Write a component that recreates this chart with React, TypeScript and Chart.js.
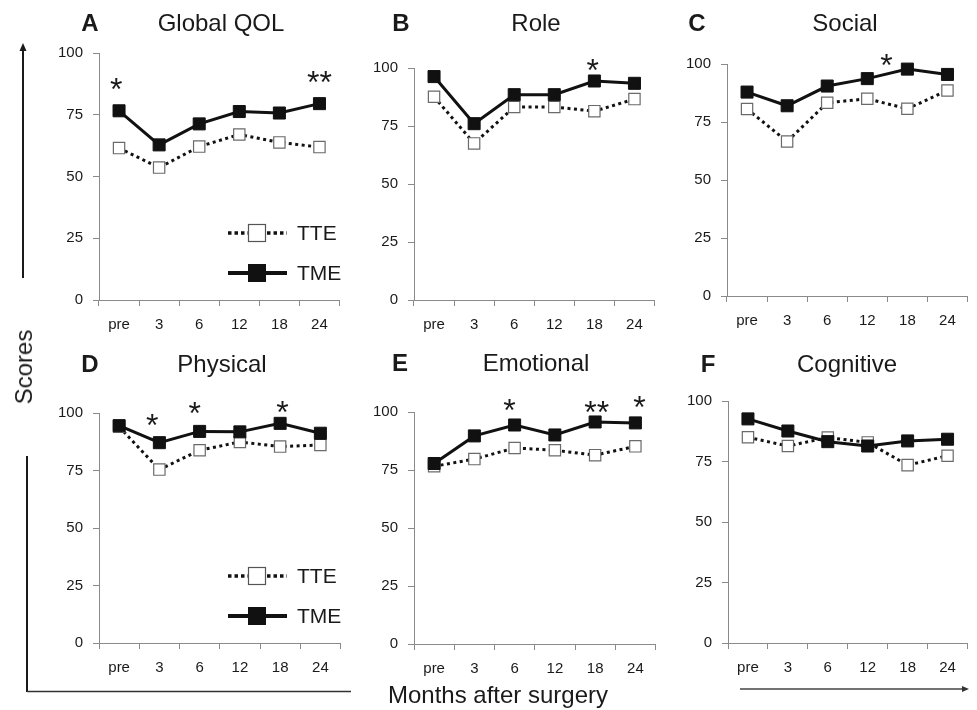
import React, { useEffect, useRef } from "react";
import { Chart, registerables } from "chart.js";

Chart.register(...registerables);

// ---------------- data ----------------
const months = ["pre", "3", "6", "12", "18", "24"];
const seriesNames = ["TME", "TTE"];

const globalTME = [76.6, 62.8, 71.3, 76.3, 75.7, 79.5];
const globalTTE = [61.5, 53.6, 62.1, 67.0, 63.8, 61.9];
const roleTME = [96.3, 76.0, 88.5, 88.5, 94.4, 93.4];
const roleTTE = [87.6, 67.5, 83.2, 83.2, 81.4, 86.6];
const socialTME = [87.9, 82.0, 90.5, 93.7, 97.8, 95.5];
const socialTTE = [80.6, 66.6, 83.3, 85.0, 80.7, 88.6];
const physicalTME = [94.5, 87.1, 92.0, 91.8, 95.5, 91.2];
const physicalTTE = [94.0, 75.4, 83.8, 87.4, 85.4, 86.1];
const emotionalTME = [77.8, 89.7, 94.4, 90.1, 95.7, 95.3];
const emotionalTTE = [76.6, 79.7, 84.5, 83.5, 81.4, 85.2];
const cognitiveTME = [92.6, 87.6, 83.2, 81.4, 83.5, 84.2];
const cognitiveTTE = [85.0, 81.4, 84.9, 82.9, 73.5, 77.4];

// significance markers (category index position, score level, label)
const globalStarX = [-0.07, 5.0];
const globalStarY = [87.6, 90.2];
const globalStarText = ["*", "**"];
const roleStarX = [3.96];
const roleStarY = [101.3];
const roleStarText = ["*"];
const socialStarX = [3.48];
const socialStarY = [101.7];
const socialStarText = ["*"];
const physicalStarX = [0.82, 1.88, 4.06];
const physicalStarY = [97.0, 102.0, 102.6];
const physicalStarText = ["*", "*", "*"];
const emotionalStarX = [1.87, 4.04, 5.1];
const emotionalStarY = [103.0, 102.2, 104.4];
const emotionalStarText = ["*", "**", "*"];
const cognitiveStarX: number[] = [];
const cognitiveStarY: number[] = [];
const cognitiveStarText: string[] = [];

// ---------------- styles / layout ----------------
const FONT = '"Liberation Sans", Arial, Helvetica, sans-serif';
const AXIS = "#8a8a8a";
const TEXT = "#1a1a1a";

type Panel = {
  letter: string;
  title: string;
  tme: number[];
  tte: number[];
  starX: number[];
  starY: number[];
  starText: string[];
  legend: boolean;
};

const panels: Panel[] = [
  { letter: "A", title: "Global QOL", tme: globalTME, tte: globalTTE, starX: globalStarX, starY: globalStarY, starText: globalStarText, legend: true },
  { letter: "B", title: "Role", tme: roleTME, tte: roleTTE, starX: roleStarX, starY: roleStarY, starText: roleStarText, legend: false },
  { letter: "C", title: "Social", tme: socialTME, tte: socialTTE, starX: socialStarX, starY: socialStarY, starText: socialStarText, legend: false },
  { letter: "D", title: "Physical", tme: physicalTME, tte: physicalTTE, starX: physicalStarX, starY: physicalStarY, starText: physicalStarText, legend: true },
  { letter: "E", title: "Emotional", tme: emotionalTME, tte: emotionalTTE, starX: emotionalStarX, starY: emotionalStarY, starText: emotionalStarText, legend: false },
  { letter: "F", title: "Cognitive", tme: cognitiveTME, tte: cognitiveTTE, starX: cognitiveStarX, starY: cognitiveStarY, starText: cognitiveStarText, legend: false },
];

// chart area boxes [left, top, right, bottom] in page pixels
const areas: [number, number, number, number][] = [
  [99, 53, 345, 300],
  [414, 68, 660, 300],
  [727, 64, 973, 296],
  [99, 413, 346, 643],
  [414, 412, 661, 644],
  [728, 401, 973, 643],
];
// [letterX, letterY, titleX, titleY] centers
const titlePos: [number, number, number, number][] = [
  [90, 23, 221, 23],
  [401, 23, 536, 23],
  [697, 23, 845, 23],
  [90, 364, 222, 364],
  [400, 363, 536, 363],
  [708, 364, 847, 364],
];

const PAD_L = 70;
const PAD_T = 45;
const PAD_R = 4;
const PAD_B = 40;

// ---------------- plugins ----------------
const starPlugin = {
  id: "sigStars",
  afterDatasetsDraw(chart: any, _args: any, opts: any) {
    const items = (opts && opts.items) || [];
    if (!items.length) return;
    const { ctx, scales } = chart;
    ctx.save();
    ctx.font = `32px ${FONT}`;
    ctx.fillStyle = TEXT;
    ctx.textAlign = "center";
    ctx.textBaseline = "alphabetic";
    for (const it of items) {
      const px = scales.x.getPixelForValue(it.x);
      const py = scales.y.getPixelForValue(it.y);
      const m = ctx.measureText(it.text);
      const off = (m.actualBoundingBoxAscent - m.actualBoundingBoxDescent) / 2;
      ctx.fillText(it.text, px, py + off);
    }
    ctx.restore();
  },
};

const legendPlugin = {
  id: "panelLegend",
  afterDatasetsDraw(chart: any, _args: any, opts: any) {
    if (!opts || !opts.show) return;
    const { ctx, chartArea } = chart;
    const x0 = chartArea.left + 129;
    const x1 = chartArea.left + 188;
    const xs = chartArea.left + 158;
    const xt = chartArea.left + 198;
    const rows = [
      { y: chartArea.bottom - 67, ds: chart.data.datasets[1], open: true },
      { y: chartArea.bottom - 27, ds: chart.data.datasets[0], open: false },
    ];
    ctx.save();
    for (const r of rows) {
      ctx.beginPath();
      ctx.strokeStyle = "#111";
      if (r.open) {
        ctx.lineWidth = 3.5;
        ctx.setLineDash([3.5, 3]);
      } else {
        ctx.lineWidth = 4;
        ctx.setLineDash([]);
      }
      ctx.moveTo(x0, r.y);
      ctx.lineTo(x1, r.y);
      ctx.stroke();
      ctx.setLineDash([]);
      const s = r.open ? 17 : 18;
      if (r.open) {
        ctx.fillStyle = "#fff";
        ctx.fillRect(xs - s / 2, r.y - s / 2, s, s);
        ctx.lineWidth = 1.2;
        ctx.strokeStyle = "#555";
        ctx.strokeRect(xs - s / 2, r.y - s / 2, s, s);
      } else {
        ctx.fillStyle = "#111";
        ctx.fillRect(xs - s / 2, r.y - s / 2, s, s);
      }
      ctx.fillStyle = TEXT;
      ctx.font = `21px ${FONT}`;
      ctx.textAlign = "left";
      ctx.textBaseline = "middle";
      ctx.fillText(r.ds.label, xt, r.y + 1);
    }
    ctx.restore();
  },
};

// ---------------- components ----------------
function PanelChart({ p, area }: { p: Panel; area: [number, number, number, number] }) {
  const ref = useRef<HTMLCanvasElement>(null);
  const [L, T, R, B] = area;
  const w = R - L + PAD_L + PAD_R;
  const h = B - T + PAD_T + PAD_B;

  useEffect(() => {
    const tickFont = { family: FONT, size: 15 };
    const chart = new Chart(ref.current as HTMLCanvasElement, {
      type: "line",
      data: {
        labels: months,
        datasets: [
          {
            label: seriesNames[0],
            data: p.tme,
            borderColor: "#111",
            borderWidth: 3,
            pointStyle: "rect",
            pointRadius: 8.5,
            pointBackgroundColor: "#111",
            pointBorderColor: "#111",
            pointBorderWidth: 1,
            tension: 0,
            clip: false,
          },
          {
            label: seriesNames[1],
            data: p.tte,
            borderColor: "#111",
            borderWidth: 3,
            borderDash: [3, 3.5],
            pointStyle: "rect",
            pointRadius: 8,
            pointBackgroundColor: "#fff",
            pointBorderColor: "#6a6a6a",
            pointBorderWidth: 1.2,
            tension: 0,
            clip: false,
          },
        ],
      } as any,
      options: {
        responsive: false,
        animation: false,
        events: [],
        layout: { padding: { left: 0, top: PAD_T, right: PAD_R, bottom: 0 } },
        scales: {
          x: {
            offset: true,
            grid: { offset: true, drawOnChartArea: false, drawTicks: true, tickLength: 6, color: AXIS, lineWidth: 1 },
            border: { color: AXIS, width: 1 },
            ticks: { font: tickFont, color: TEXT, padding: 10, autoSkip: false, maxRotation: 0 },
            afterFit: (s: any) => {
              s.height = PAD_B;
            },
          },
          y: {
            min: 0,
            max: 100,
            grid: { drawOnChartArea: false, drawTicks: true, tickLength: 6, color: AXIS, lineWidth: 1 },
            border: { color: AXIS, width: 1 },
            ticks: { font: tickFont, color: TEXT, padding: 10, stepSize: 25 },
            afterFit: (s: any) => {
              s.width = PAD_L;
            },
          },
        },
        plugins: {
          legend: { display: false },
          tooltip: { enabled: false },
          sigStars: {
            items: p.starX.map((x, i) => ({ x, y: p.starY[i], text: p.starText[i] })),
          },
          panelLegend: { show: p.legend },
        } as any,
      } as any,
      plugins: [starPlugin, legendPlugin],
    });
    return () => chart.destroy();
  }, []);

  return (
    <canvas
      ref={ref}
      width={w}
      height={h}
      style={{ position: "absolute", left: L - PAD_L, top: T - PAD_T, width: w, height: h }}
    />
  );
}

function Label({ x, y, text, size, bold, rotate }: { x: number; y: number; text: string; size: number; bold?: boolean; rotate?: boolean }) {
  return (
    <div
      style={{
        position: "absolute",
        left: x,
        top: y,
        transform: `translate(-50%, -50%)${rotate ? " rotate(-90deg)" : ""}`,
        fontFamily: FONT,
        fontSize: size,
        fontWeight: bold ? 700 : 400,
        color: TEXT,
        whiteSpace: "nowrap",
        lineHeight: "normal",
      }}
    >
      {text}
    </div>
  );
}

export default function App() {
  return (
    <div
      style={{
        position: "absolute",
        left: 0,
        top: 0,
        width: 977,
        height: 710,
        overflow: "hidden",
        background: "#fff",
      }}
    >
      {panels.map((p, i) => (
        <PanelChart key={p.letter} p={p} area={areas[i]} />
      ))}
      {panels.map((p, i) => (
        <React.Fragment key={"t" + p.letter}>
          <Label x={titlePos[i][0]} y={titlePos[i][1]} text={p.letter} size={24} bold />
          <Label x={titlePos[i][2]} y={titlePos[i][3]} text={p.title} size={24} />
        </React.Fragment>
      ))}
      <Label x={24} y={367} text="Scores" size={24} rotate />
      <Label x={498} y={695} text="Months after surgery" size={24} />
      <svg width={977} height={710} style={{ position: "absolute", left: 0, top: 0, pointerEvents: "none" }}>
        <line x1={23} y1={278} x2={23} y2={50} stroke="#1a1a1a" strokeWidth={2} />
        <polygon points="23,43 19.5,51 26.5,51" fill="#1a1a1a" />
        <line x1={27} y1={456} x2={27} y2={692} stroke="#1a1a1a" strokeWidth={2} />
        <line x1={27} y1={691.5} x2={351} y2={691.5} stroke="#333" strokeWidth={1.6} />
        <line x1={740} y1={689} x2={963} y2={689} stroke="#444" strokeWidth={1.3} />
        <polygon points="969,689 962,686 962,692" fill="#333" />
      </svg>
    </div>
  );
}
